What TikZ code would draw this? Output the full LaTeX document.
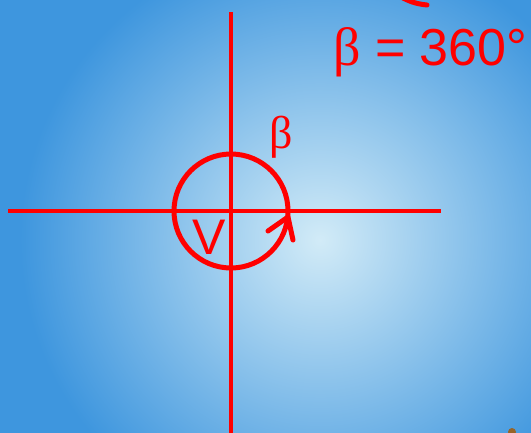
\documentclass[tikz,border=0pt]{standalone}
\usepackage{fontspec}
\setmainfont{Liberation Sans}
\newfontfamily\betafont{Liberation Serif}
\usetikzlibrary{calc}

\definecolor{skyblue}{RGB}{62,150,222}
\definecolor{skylight}{RGB}{210,235,247}
\definecolor{markred}{RGB}{255,0,0}
\definecolor{twig}{RGB}{150,100,40}

\tikzset{
  axis/.style={markred, line width=4pt},
  ring/.style={markred, line width=5pt},
  redlabel/.style={markred, inner sep=0pt}
}

\begin{document}
\begin{tikzpicture}[x=1pt, y=-1pt]

% Sky background
\useasboundingbox (0,0) rectangle (531,432);
\clip (0,0) rectangle (531,432);
\fill[skyblue] (-5,-5) rectangle (536,437);
\shade[inner color=skylight, outer color=skyblue] (320,240) circle (300);

% Axes
\draw[axis] (231,12) -- (231,440);
\draw[axis] (8,211) -- (441,211);

% Angle circle with arrow
\coordinate (V) at (231,211);
\draw[ring] (V) circle (57);
\draw[ring, line cap=round, line join=round] (268,231) -- (288,217) -- (293,240);

% Labels
\node[redlabel, font=\fontsize{50}{50}\selectfont] (vlabel) at (209,237) {V};
\node[redlabel, font=\betafont\fontsize{46}{46}\selectfont] (betalabel) at (281,137) {β};
\node[redlabel, anchor=base west, font=\fontsize{52}{52}\selectfont] (result) at (333,65)
  {{\betafont\fontsize{54}{54}\selectfont β} = 360°};

% Cut-off stroke at the top
\draw[markred, line width=5pt, line cap=round] (403,-2) to[bend right=10] (427,5);

% Bit of twig in the corner
\fill[twig] (512,432) circle (4);

\end{tikzpicture}
\end{document}
